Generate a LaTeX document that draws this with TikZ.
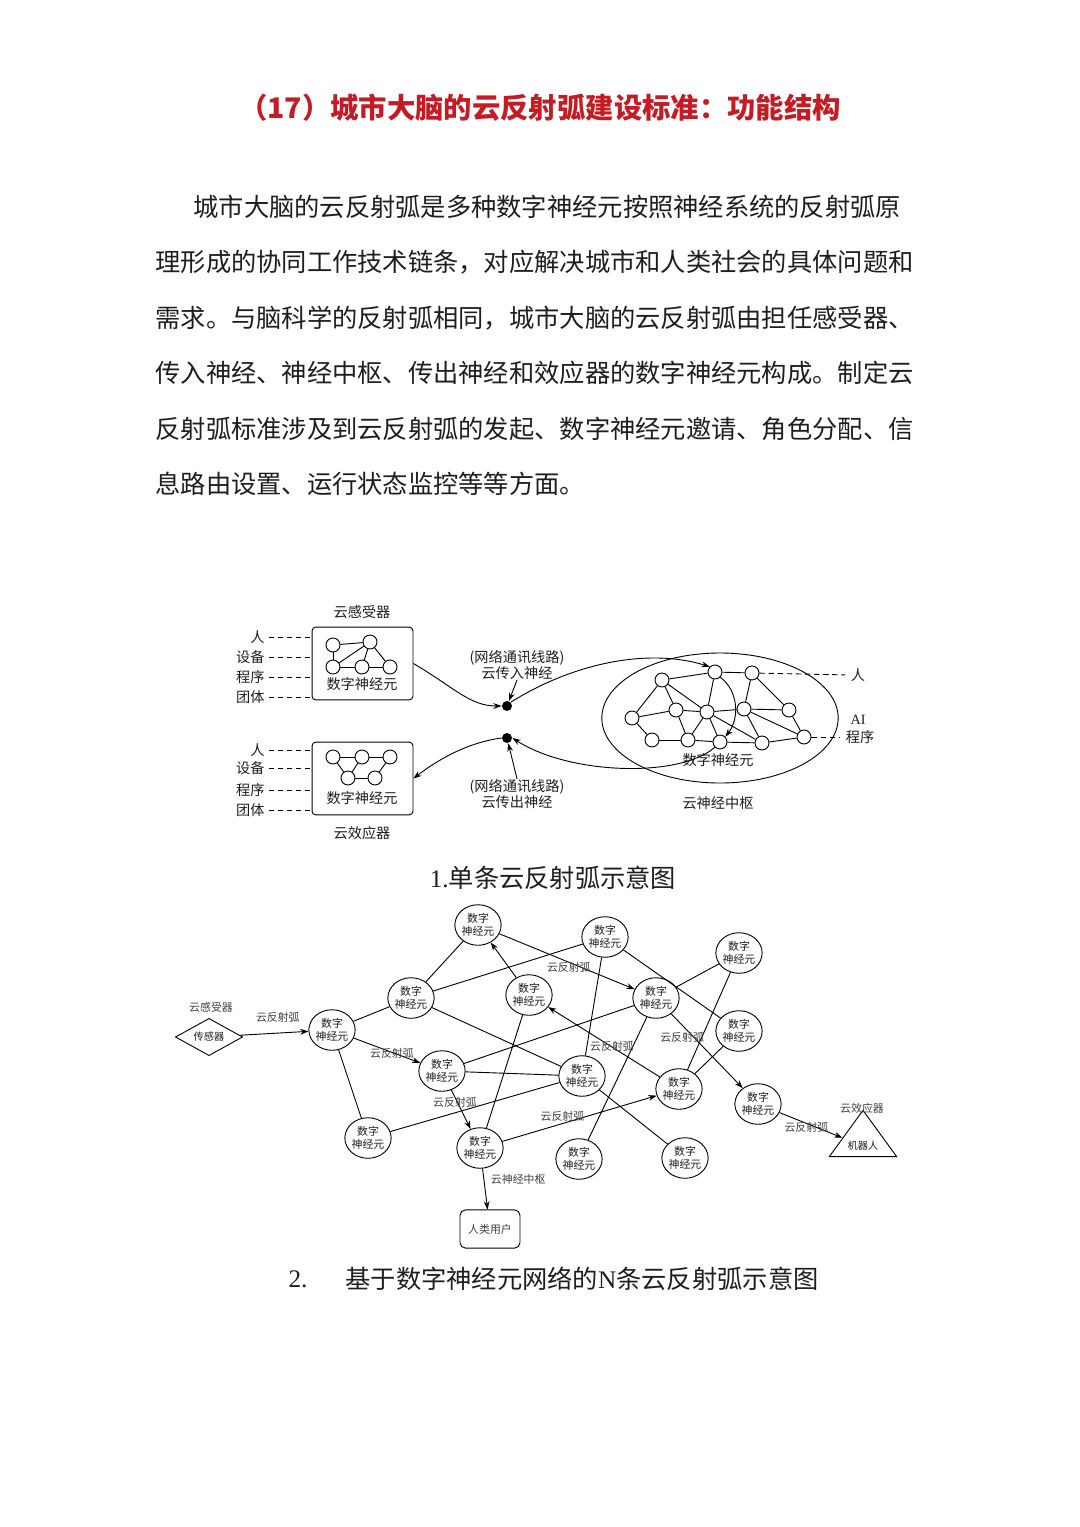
\documentclass[tikz,border=0pt]{standalone}
\usepackage{fontspec}
\setmainfont{Noto Sans CJK SC}
\newfontfamily\serifnum{Liberation Serif}
\usetikzlibrary{arrows.meta,shapes.geometric}
\definecolor{titlered}{RGB}{196,28,36}
\definecolor{ink}{RGB}{30,30,30}

\begin{document}
\begin{tikzpicture}[x=0.55pt,y=-0.55pt,line width=0.5pt,
  every node/.style={inner sep=0pt,text=ink},
  >={Stealth[length=4.5pt,width=3.2pt]},
  headline/.style={font=\fontsize{15.6}{18}\selectfont\bfseries,text=titlered},
  bodyline/.style={anchor=west,font=\fontsize{13.9}{16}\selectfont},
  lbl1/.style={font=\fontsize{7.8}{8.8}\selectfont,align=center},
  arclbl/.style={font=\fontsize{6}{7}\selectfont,text=ink!85},
  cellnode/.style={circle,draw,fill=white,minimum size=7.7pt},
  joint/.style={circle,fill=black,minimum size=5.5pt},
  unitbox/.style={draw,rounded corners=2pt,minimum width=55.5pt,minimum height=40pt},
  neuron/.style={ellipse,draw,fill=white,minimum width=22.8pt,minimum height=22.3pt,align=center,font=\fontsize{6}{7}\selectfont},
  sensor/.style={diamond,draw,aspect=1.8,minimum width=37pt,minimum height=20.5pt,font=\fontsize{5.6}{7}\selectfont},
  robot/.style={isosceles triangle,isosceles triangle stretches,shape border rotate=90,draw,minimum width=37pt,minimum height=20pt,font=\fontsize{5.6}{7}\selectfont},
  lead/.style={dash pattern=on 3pt off 2pt}]
\useasboundingbox (0,0) rectangle (1080,1527);

% title and text
\node[headline] (title) at (540,108) {（17）城市大脑的云反射弧建设标准：功能结构};
\node[bodyline] (l207) at (193,207) {城市大脑的云反射弧是多种数字神经元按照神经系统的反射弧原};
\foreach \y/\t in {262/理形成的协同工作技术链条，对应解决城市和人类社会的具体问题和,
  318/需求。与脑科学的反射弧相同，城市大脑的云反射弧由担任感受器、,
  373/传入神经、神经中枢、传出神经和效应器的数字神经元构成。制定云,
  429/反射弧标准涉及到云反射弧的发起、数字神经元邀请、角色分配、信,
  484/息路由设置、运行状态监控等等方面。} {
   \node[bodyline] (l\y) at (155,\y) {\t};
}

% single reflex arc
\node[lbl1] (sensecap) at (362,612) {云感受器};
\node[unitbox] (rbox) at (362.5,663.5) {};
\node[lbl1] (rtext) at (362,684) {数字神经元};
\foreach \n/\x/\y in {r1/333/645,r2/370/642,r3/333/667,r4/362/667,r5/390/667}
   \node[cellnode] (\n) at (\x,\y) {};
\foreach \a/\b in {r1/r2,r1/r3,r3/r2,r4/r2,r2/r5,r3/r4,r4/r5}
   \draw (\a) -- (\b);
\foreach \y/\t in {637/人,657/设备,677/程序,697/团体} {
   \node[lbl1,anchor=east] (rin\y) at (265,\y) {\t};
   \draw[lead,shorten <=2pt] (rin\y.east) -- (rbox.west |- rin\y);
}

\node[unitbox] (ebox) at (362.5,778.5) {};
\node[lbl1] (etext) at (362,798) {数字神经元};
\node[lbl1] (effcap) at (362,833) {云效应器};
\foreach \n/\x/\y in {e1/333/757,e2/362/757,e3/390/757,e4/348/778,e5/375/778}
   \node[cellnode] (\n) at (\x,\y) {};
\foreach \a/\b in {e1/e2,e2/e3,e1/e4,e2/e4,e4/e5,e5/e3}
   \draw (\a) -- (\b);
\foreach \y/\t in {750/人,768/设备,790/程序,810/团体} {
   \node[lbl1,anchor=east] (ein\y) at (265,\y) {\t};
   \draw[lead,shorten <=2pt] (ein\y.east) -- (ebox.west |- ein\y);
}

\node[joint] (d1) at (507,706) {};
\node[joint] (d2) at (507,738) {};
\node[lbl1] (afferent) at (517,665) {(网络通讯线路)\\云传入神经};
\node[lbl1] (efferent) at (517,794) {(网络通讯线路)\\云传出神经};

\node[draw,ellipse,minimum width=130pt,minimum height=71.5pt] (hub) at (720,718) {};
\foreach \n/\x/\y in {c1/662/680,c2/715/672,c3/752/673,c4/632/718,c5/676/710,
   c6/707/712,c7/744/709,c8/789/710,c9/652/740,c10/688/740,c11/720/742,
   c12/762/743,c13/804/737}
   \node[cellnode] (\n) at (\x,\y) {};
\foreach \a/\b in {c1/c2,c2/c3,c1/c4,c1/c5,c1/c6,c2/c6,c3/c7,c3/c8,c4/c5,c4/c9,
   c5/c6,c5/c10,c6/c7,c6/c10,c6/c11,c6/c12,c7/c8,c7/c12,c7/c13,c8/c13,
   c9/c10,c10/c11,c11/c12,c12/c13}
   \draw (\a) -- (\b);
\node[lbl1] (hubtext) at (718,760) {数字神经元};
\node[lbl1] (hubcap) at (718,803) {云神经中枢};
\node[lbl1] (person) at (858,675) {人};
\node[lbl1] (ai) at (858,720) {\serifnum AI};
\node[lbl1] (prog) at (860,737) {程序};
\draw[lead,shorten >=3pt] (c3) -- (person.west);
\draw[lead,shorten >=3pt] (c13) -- (prog.west);

\draw[->] (rbox.east) .. controls (455,688) and (470,706) .. (d1.west);
\draw[->] (afferent.south) -- (d1);
\draw[->] (d1.north east) .. controls (575,662) and (650,648) .. (c2.north west);
\draw[->] (c2.south east) .. controls (738,690) and (740,718) .. (c11.north east);
\draw[->] (c11.south west) .. controls (680,778) and (570,775) .. (d2.east);
\draw[->] (efferent.north) -- (d2);
\draw[->] (d2.west) .. controls (470,742) and (440,758) .. (ebox.east);

\node[bodyline,anchor=center] (cap1) at (553,878) {{\serifnum 1.}单条云反射弧示意图};

% network of reflex arcs
\node[sensor] (sen) at (209,1037) {传感器};
\node[arclbl] (sencap) at (211,1007) {云感受器};
\foreach \n/\x/\y in {xa/332/1030,xb/411/998,xc/478/925,xd/605/937,xe/739/953,
   xf/529/995,xg/656/998,xh/739/1031,xi/442/1071,xj/582/1076,xk/679/1089,
   xl/758/1104,xm/368/1138,xn/480/1148,xo/579/1159,xp/685/1158}
   \node[neuron] (\n) at (\x,\y) {数字\\神经元};
\foreach \a/\b in {xa/xb,xa/xm,xb/xc,xb/xd,xb/xj,xd/xj,xd/xh,xe/xg,xe/xk,xh/xk,
   xg/xi,xg/xo,xi/xj,xj/xm,xj/xp,xf/xn}
   \draw (\a) -- (\b);
\node[robot] (bot) at (863,1146) {机器人};
\node[arclbl] (botcap) at (862,1108) {云效应器};
\node[draw,rounded corners=3pt,minimum width=33pt,minimum height=21pt,arclbl] (user) at (490,1229) {人类用户};

\draw[->] (sen) -- (xa) node[arclbl,midway,xshift=2pt,yshift=9pt] {云反射弧};
\draw[->] (xa) -- (xi) node[arclbl,midway,xshift=2.7pt,yshift=-1.6pt] {云反射弧};
\draw[->] (xc) -- (xg) node[arclbl,midway,xshift=1pt,yshift=-3.3pt] {云反射弧};
\draw[->] (xf) -- (xc);
\draw[->] (xk) -- (xf) node[arclbl,midway,xshift=4.4pt,yshift=-2.2pt] {云反射弧};
\draw[->] (xg) -- (xl) node[arclbl,midway,xshift=-13.7pt,yshift=7.7pt] {云反射弧};
\draw[->] (xl) -- (bot) node[arclbl,midway,xshift=-2.5pt,yshift=-1.1pt] {云反射弧};
\draw[->] (xi) -- (xn) node[arclbl,midway,xshift=-3.3pt,yshift=3.9pt] {云反射弧};
\draw[->] (xn) -- (xk) node[arclbl,midway,xshift=-9.4pt,yshift=1.1pt] {云反射弧};
\draw[->] (xn) -- (user) node[arclbl,midway,anchor=west,xshift=3pt,yshift=5.5pt] {云神经中枢};

\node[bodyline,anchor=center] (cap2num) at (298,1279) {\serifnum 2.};
\node[bodyline] (cap2) at (345,1279) {基于数字神经元网络的{\serifnum N}条云反射弧示意图};
\end{tikzpicture}
\end{document}
